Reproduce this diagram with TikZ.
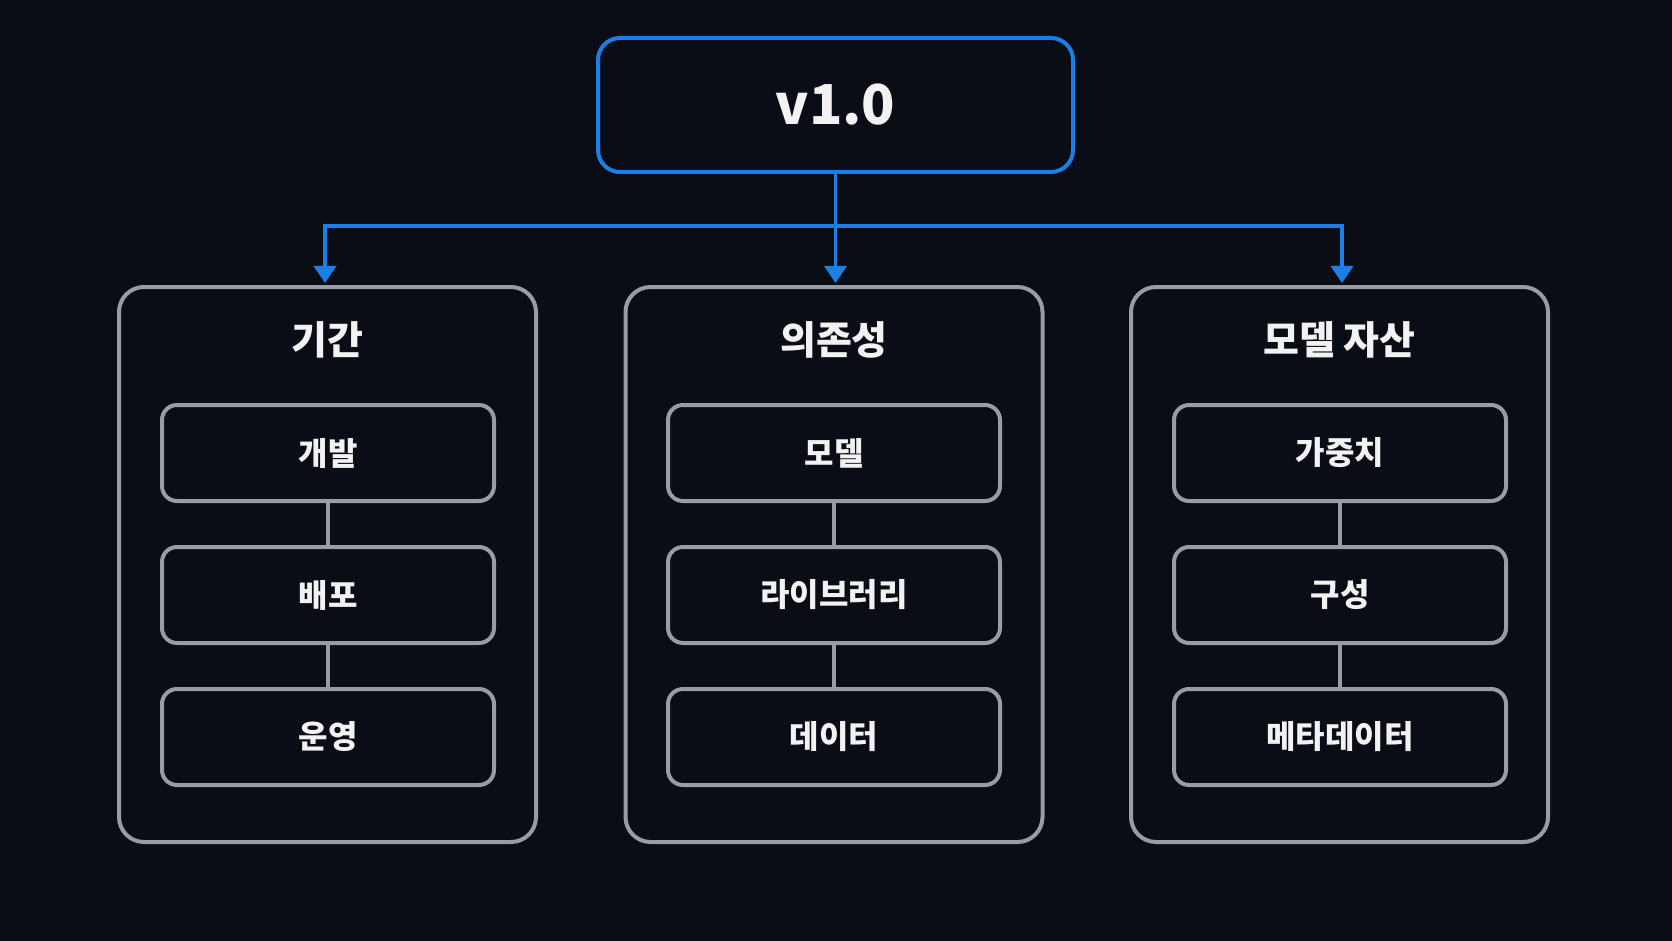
\documentclass[tikz,border=0pt]{standalone}
\usepackage{fontspec}
\setmainfont{Noto Sans CJK KR}
\usetikzlibrary{arrows.meta,positioning}
\definecolor{bg}{HTML}{0A0D16}
\definecolor{accent}{HTML}{1A80E8}
\definecolor{frame}{HTML}{9A9CA3}
\definecolor{txt}{HTML}{F2F2F2}
\tikzset{
  topbox/.style={draw=accent,line width=4pt,rounded corners=22pt,fill=bg,minimum width=475pt,minimum height=134pt,text=txt,font=\bfseries\fontsize{55}{55}\selectfont},
  colbox/.style={draw=frame,line width=4pt,rounded corners=25pt,minimum width=417pt,minimum height=555pt},
  coltitle/.style={text=txt,font=\bfseries\fontsize{39}{39}\selectfont},
  itembox/.style={draw=frame,line width=4pt,rounded corners=15pt,fill=bg,minimum width=332pt,minimum height=96pt,text=txt,font=\bfseries\fontsize{32}{32}\selectfont},
  link/.style={draw=frame,line width=3.5pt},
  flow/.style={draw=accent,line width=3.5pt},
  flowarrow/.style={flow,-{Triangle[width=22pt,length=17pt]},shorten >=2pt}
}
\begin{document}
\begin{tikzpicture}[x=1pt,y=-1pt]
\fill[bg] (0,0) rectangle (1672,941);
\useasboundingbox (0,0) rectangle (1672,941);

\node[topbox] (top) at (835.5,105) {v1.0};

\node[colbox] (c1) at (327.5,564.5) {};
\node[colbox] (c2) at (834,564.5) {};
\node[colbox] (c3) at (1339.5,564.5) {};

\node[coltitle] (t1) at (327.5,340) {기간};
\node[coltitle] (t2) at (834,340) {의존성};
\node[coltitle] (t3) at (1339.5,340) {모델 자산};

\node[itembox] (a1) at (328,453) {개발};
\node[itembox] (a2) at (328,595) {배포};
\node[itembox] (a3) at (328,737) {운영};
\node[itembox] (b1) at (834,453) {모델};
\node[itembox] (b2) at (834,595) {라이브러리};
\node[itembox] (b3) at (834,737) {데이터};
\node[itembox] (d1) at (1340,453) {가중치};
\node[itembox] (d2) at (1340,595) {구성};
\node[itembox] (d3) at (1340,737) {메타데이터};

\path[link] (a1) -- (a2) (a2) -- (a3);
\path[link] (b1) -- (b2) (b2) -- (b3);
\path[link] (d1) -- (d2) (d2) -- (d3);

\coordinate (hub) at (835.5,226);
\path[flow] (top.south) -- (hub);
\path[flowarrow] (hub) -| ([xshift=-2.5pt]c1.north);
\path[flowarrow] (hub) -- (hub |- c2.north);
\path[flowarrow] (hub) -| ([xshift=2.5pt]c3.north);
\end{tikzpicture}
\end{document}
